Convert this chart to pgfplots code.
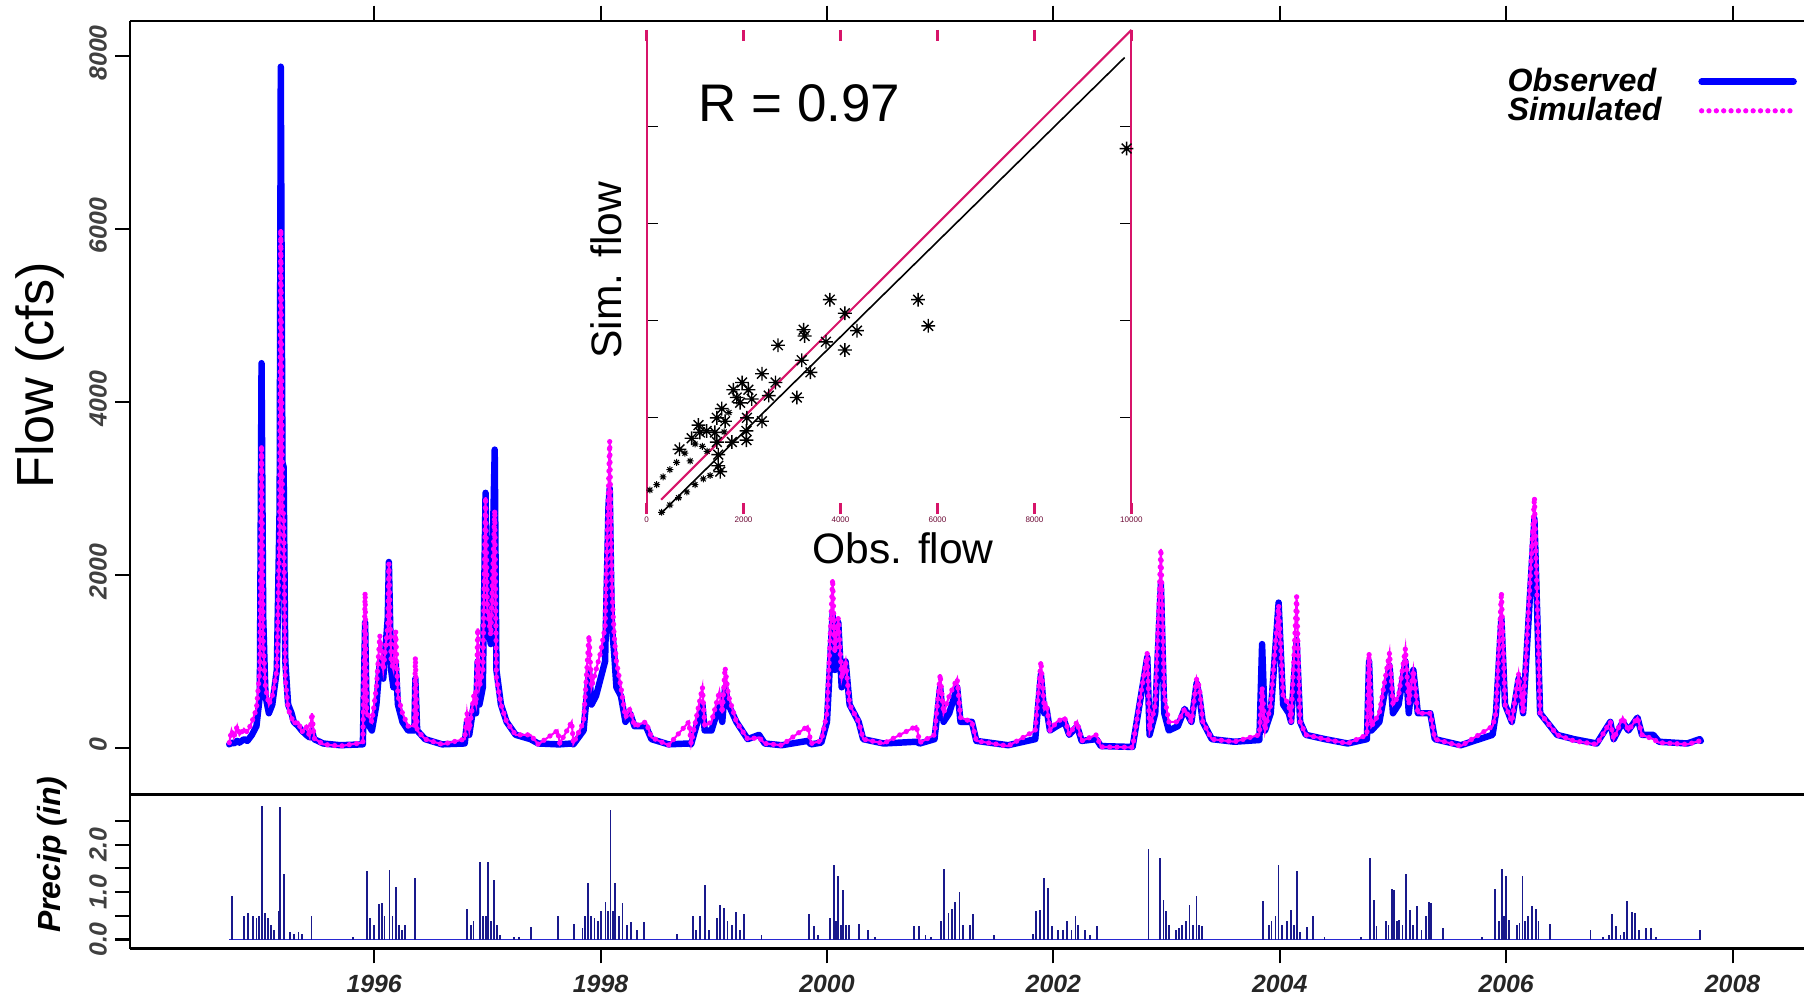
\documentclass[border=0pt]{standalone}
\usepackage{pgfplots}
\pgfplotsset{compat=1.18}
\usepackage{pgfplotstable}
\usepackage{fontspec}
\setmainfont{Liberation Sans}

\definecolor{obsblue}{RGB}{0,0,255}
\definecolor{simmag}{RGB}{255,0,255}
\definecolor{prnavy}{RGB}{25,25,140}
\definecolor{prbase}{RGB}{40,40,210}
\definecolor{crim}{RGB}{215,20,105}

\newcommand{\tlfont}{\fontsize{10.8}{12}\selectfont\bfseries\itshape}

\pgfdeclareplotmark{ast8}{%
 \pgfpathmoveto{\pgfqpoint{-\pgfplotmarksize}{0pt}}\pgfpathlineto{\pgfqpoint{\pgfplotmarksize}{0pt}}%
 \pgfpathmoveto{\pgfqpoint{0pt}{-\pgfplotmarksize}}\pgfpathlineto{\pgfqpoint{0pt}{\pgfplotmarksize}}%
 \pgfpathmoveto{\pgfqpoint{-.707\pgfplotmarksize}{-.707\pgfplotmarksize}}\pgfpathlineto{\pgfqpoint{.707\pgfplotmarksize}{.707\pgfplotmarksize}}%
 \pgfpathmoveto{\pgfqpoint{-.707\pgfplotmarksize}{.707\pgfplotmarksize}}\pgfpathlineto{\pgfqpoint{.707\pgfplotmarksize}{-.707\pgfplotmarksize}}%
 \pgfusepathqstroke}

\pgfplotstableread{
t obs sim
1994.72 40 60
1994.74 60 200
1994.76 50 120
1994.79 80 250
1994.81 60 150
1994.85 100 220
1994.88 80 180
1994.92 150 300
1994.96 250 450
1994.99 600 900
1995.005 4450 3500
1995.02 1500 1200
1995.04 600 700
1995.07 400 500
1995.10 500 600
1995.14 900 900
1995.165 2800 2500
1995.175 7880 6000
1995.19 3300 2750
1995.20 3250 2700
1995.215 1000 800
1995.24 500 450
1995.27 400 350
1995.29 300 280
1995.33 250 300
1995.36 200 180
1995.40 150 250
1995.43 120 130
1995.45 200 400
1995.47 100 110
1995.55 50 40
1995.70 30 20
1995.90 40 60
1995.92 1450 1800
1995.935 300 400
1995.98 200 300
1996.02 500 700
1996.05 1000 1300
1996.08 800 900
1996.12 1500 1400
1996.13 2150 2130
1996.15 900 1000
1996.17 700 900
1996.19 1000 1350
1996.21 500 600
1996.25 300 400
1996.30 200 250
1996.355 200 250
1996.364 800 1050
1996.38 200 200
1996.45 100 100
1996.60 40 40
1996.80 50 100
1996.82 300 400
1996.84 150 200
1996.88 500 600
1996.90 400 500
1996.915 1000 1380
1996.93 500 700
1996.96 700 900
1996.984 2950 2900
1997.00 1500 1600
1997.03 1200 1300
1997.065 3450 2750
1997.08 900 800
1997.12 500 500
1997.17 300 300
1997.25 150 150
1997.38 100 150
1997.45 50 40
1997.62 40 200
1997.64 40 50
1997.745 50 300
1997.76 40 50
1997.85 200 300
1997.898 900 1300
1997.92 500 700
1997.96 600 900
1998.00 800 1100
1998.04 1000 1400
1998.07 2800 3000
1998.081 3000 3550
1998.10 1400 1850
1998.12 1100 1300
1998.14 700 1000
1998.18 600 700
1998.22 300 350
1998.26 400 450
1998.30 250 250
1998.40 250 300
1998.45 100 120
1998.60 40 30
1998.78 50 300
1998.80 40 50
1998.90 500 700
1998.92 200 250
1998.98 200 300
1999.05 500 650
1999.075 300 400
1999.10 700 930
1999.13 500 600
1999.20 300 300
1999.30 100 100
1999.40 150 120
1999.45 50 50
1999.60 30 30
1999.83 80 250
1999.86 40 50
1999.95 60 80
2000.00 300 400
2000.05 1550 1950
2000.07 900 1100
2000.10 1450 1500
2000.13 700 800
2000.165 1000 1000
2000.20 500 500
2000.28 300 300
2000.32 100 100
2000.50 50 50
2000.79 70 250
2000.82 50 60
2000.95 100 150
2001.00 700 850
2001.03 300 400
2001.08 400 600
2001.15 700 800
2001.18 300 350
2001.28 300 300
2001.32 80 80
2001.60 30 20
2001.84 100 200
2001.89 850 1000
2001.92 400 450
2001.94 450 500
2001.97 200 200
2002.03 250 300
2002.10 300 350
2002.14 150 150
2002.21 250 300
2002.25 80 80
2002.38 100 150
2002.42 20 10
2002.70 10 5
2002.83 1050 1100
2002.85 150 200
2002.90 400 500
2002.95 1900 2300
2002.98 400 600
2003.02 200 300
2003.10 250 300
2003.16 450 450
2003.22 300 300
2003.266 750 800
2003.29 600 700
2003.32 300 300
2003.40 100 100
2003.60 70 70
2003.82 90 150
2003.844 1200 700
2003.87 200 200
2003.92 400 500
2003.99 1680 1650
2004.03 500 600
2004.08 400 500
2004.10 300 300
2004.149 1250 1750
2004.18 300 300
2004.23 150 150
2004.40 100 100
2004.60 50 50
2004.77 100 150
2004.789 1000 1100
2004.81 200 250
2004.88 300 400
2004.97 950 1100
2005.00 400 500
2005.05 500 600
2005.11 1000 1150
2005.14 400 500
2005.18 900 900
2005.22 400 400
2005.33 400 400
2005.37 100 100
2005.60 30 20
2005.88 150 250
2005.91 400 400
2005.958 1500 1800
2005.99 500 500
2006.05 300 300
2006.11 800 850
2006.15 400 400
2006.25 2650 2900
2006.30 400 400
2006.36 300 300
2006.45 150 150
2006.60 100 80
2006.80 50 40
2006.92 300 300
2006.95 100 100
2007.03 300 350
2007.08 200 200
2007.16 350 350
2007.20 150 150
2007.30 150 100
2007.35 70 60
2007.60 50 40
2007.71 100 80
2007.72 80 70
}\flowdata

\pgfplotstableread{
t p
1994.743 0.92
1994.850 0.50
1994.885 0.55
1994.926 0.50
1994.960 0.45
1994.986 0.50
1995.011 2.82
1995.037 0.55
1995.062 0.45
1995.087 0.30
1995.118 0.20
1995.160 0.60
1995.169 2.80
1995.204 1.39
1995.255 0.15
1995.291 0.12
1995.331 0.15
1995.366 0.12
1995.447 0.49
1995.812 0.06
1995.939 1.45
1995.964 0.45
1996.000 0.30
1996.041 0.75
1996.066 0.78
1996.091 0.50
1996.136 1.46
1996.162 0.50
1996.192 1.11
1996.218 0.30
1996.243 0.20
1996.273 0.30
1996.360 1.30
1996.821 0.64
1996.852 0.30
1996.877 0.40
1996.938 1.64
1996.963 0.50
1996.988 0.50
1997.004 1.64
1997.029 0.40
1997.055 1.25
1997.085 0.30
1997.115 0.10
1997.232 0.05
1997.282 0.05
1997.383 0.26
1997.627 0.49
1997.764 0.33
1997.840 0.25
1997.865 0.50
1997.891 1.20
1997.916 0.50
1997.946 0.45
1997.977 0.40
1998.007 0.60
1998.043 0.80
1998.068 0.60
1998.088 2.73
1998.109 0.60
1998.129 1.20
1998.160 0.50
1998.194 0.77
1998.230 0.30
1998.270 0.38
1998.321 0.20
1998.387 0.38
1998.676 0.12
1998.813 0.49
1998.843 0.20
1998.879 0.49
1998.920 1.16
1998.955 0.20
1999.031 0.45
1999.057 0.72
1999.092 0.66
1999.122 0.40
1999.158 0.30
1999.198 0.58
1999.234 0.20
1999.269 0.54
1999.421 0.10
1999.841 0.54
1999.882 0.28
1999.918 0.10
2000.029 0.45
2000.060 1.58
2000.080 0.40
2000.101 1.34
2000.121 0.30
2000.141 1.05
2000.167 0.30
2000.192 0.30
2000.283 0.33
2000.364 0.20
2000.425 0.06
2000.768 0.29
2000.810 0.29
2000.870 0.10
2000.921 0.05
2001.007 0.40
2001.032 1.48
2001.073 0.56
2001.104 0.65
2001.134 0.80
2001.171 1.01
2001.201 0.30
2001.262 0.30
2001.289 0.54
2001.472 0.10
2001.823 0.12
2001.849 0.60
2001.879 0.63
2001.915 1.30
2001.955 1.09
2001.991 0.28
2002.042 0.20
2002.082 0.20
2002.119 0.39
2002.160 0.20
2002.195 0.49
2002.221 0.30
2002.282 0.21
2002.322 0.10
2002.383 0.29
2002.841 1.92
2002.943 1.73
2002.973 0.84
2002.994 0.60
2003.019 0.30
2003.085 0.20
2003.111 0.25
2003.136 0.31
2003.172 0.40
2003.202 0.72
2003.233 0.30
2003.264 0.92
2003.289 0.30
2003.315 0.29
2003.851 0.82
2003.902 0.30
2003.927 0.40
2003.962 0.50
2003.989 1.58
2004.019 0.30
2004.065 0.40
2004.096 0.63
2004.126 0.30
2004.151 1.45
2004.182 0.15
2004.238 0.26
2004.294 0.50
2004.395 0.06
2004.716 0.06
2004.799 1.73
2004.829 0.84
2004.855 0.28
2004.936 0.39
2004.961 0.30
2004.988 1.06
2005.008 1.04
2005.034 0.40
2005.054 0.42
2005.085 0.30
2005.115 1.39
2005.150 0.63
2005.176 0.30
2005.211 0.71
2005.252 0.20
2005.293 0.50
2005.317 0.80
2005.338 0.77
2005.440 0.24
2005.787 0.06
2005.905 1.06
2005.940 0.40
2005.960 1.48
2005.981 0.50
2006.001 1.34
2006.027 0.42
2006.093 0.30
2006.118 0.35
2006.144 1.34
2006.169 0.40
2006.194 0.50
2006.230 0.71
2006.260 0.64
2006.286 0.40
2006.388 0.33
2006.745 0.21
2006.857 0.06
2006.908 0.10
2006.933 0.54
2006.970 0.28
2007.010 0.10
2007.041 0.15
2007.071 0.82
2007.112 0.59
2007.137 0.56
2007.173 0.20
2007.239 0.24
2007.280 0.24
2007.325 0.06
2007.713 0.20
}\precipdata

\pgfplotstableread{
x y
9900 7550
3780 4430
5600 4430
5810 3890
4090 4150
4340 3790
3240 3810
3260 3680
3700 3560
4090 3390
2710 3490
3200 3180
3380 2930
2380 2900
2660 2720
2520 2450
3100 2410
2380 1920
1970 2720
1790 2570
2100 2570
1860 2410
2170 2380
1930 2300
2070 1990
2060 1720
2060 1530
1760 1490
1550 2180
1450 1990
1620 1920
1070 1840
1240 1720
1410 1690
1450 1490
1480 1230
1480 1000
1520 880
680 1340
930 1570
1100 1690
}\scatbig

\pgfplotstableread{
x y
70 500
210 610
340 770
480 920
620 1070
790 1260
310 40
480 190
660 340
830 460
1000 610
1170 730
1310 800
900 1100
1150 1400
1250 1300
1000 1450
1600 1700
1700 2100
}\scatsmall

\begin{document}
\begin{tikzpicture}
\path (0,0) rectangle (784pt,431.5pt);
% ---------------- flow panel
\begin{axis}[
  at={(56.5pt,86.2pt)}, anchor=south west, scale only axis,
  width=727.5pt, height=336.3pt,
  xmin=1993.843, xmax=2008.63, ymin=-540, ymax=8412,
  axis x line*=box, axis y line*=left,
  axis line style={line width=1pt},
  tick align=outside, major tick length=6.5pt,
  tick style={black, line width=0.9pt},
  xtick={1996,1998,...,2008}, xticklabels={}, xtick pos=right, xticklabel pos=left,
  ytick={0,2000,4000,6000,8000}, yticklabels={0,2000,4000,6000,8000},
  ytick pos=left,
  yticklabel style={rotate=90, anchor=south, font=\tlfont, text=black!75, xshift=1.5pt},
  ylabel={Flow (cfs)},
  ylabel style={at={(axis description cs:-0.0535,0.542)}, anchor=center, font=\fontsize{22.7}{26}\selectfont},
  legend plot pos=right,
  legend cell align=left,
  legend image code/.code={\draw[#1] (0pt,0pt) -- (40pt,0pt);},
  legend style={at={(axis description cs:0.82,0.945)}, anchor=north west,
    draw=none, fill=none, inner sep=0pt, row sep=-3pt, column sep=14pt,
    font=\fontsize{14}{15}\selectfont\bfseries\itshape},
]
\addplot[obsblue, line width=2.8pt, line join=round, line cap=round] table[x=t, y=obs] {\flowdata};
\addlegendentry{Observed}
\addplot[simmag, line width=0.9pt, forget plot] table[x=t, y=sim] {\flowdata};
\addplot[simmag, line width=2.3pt, line cap=round, dash pattern=on 0pt off 3.2pt] table[x=t, y=sim] {\flowdata};
\addlegendentry{Simulated}
\end{axis}

% ---------------- precip panel
\begin{axis}[
  at={(56.5pt,19.25pt)}, anchor=south west, scale only axis,
  width=727.5pt, height=66.95pt,
  xmin=1993.843, xmax=2008.63, ymin=-0.19, ymax=3.06,
  axis x line*=box, axis y line*=left,
  axis line style={line width=1pt},
  tick align=outside, major tick length=6.5pt,
  tick style={black, line width=0.9pt},
  xtick={1996,1998,...,2008},
  xticklabels={1996,1998,2000,2002,2004,2006,2008},
  xtick pos=left,
  xticklabel style={font=\tlfont, text=black!85, inner sep=2pt, yshift=-3pt},
  ytick={0,0.5,1,1.5,2,2.5}, yticklabels={0.0,,1.0,,2.0,},
  ytick pos=left,
  yticklabel style={rotate=90, anchor=south, font=\tlfont, text=black!75},
  ylabel={Precip (in)},
  ylabel style={at={(axis description cs:-0.0466,0.609)}, anchor=center, font=\fontsize{13.9}{15}\selectfont\bfseries\itshape},
]
\addplot[prbase, line width=0.8pt] coordinates {(1994.72,0) (2007.72,0)};
\addplot[prnavy, ycomb, line width=0.8pt, no marks] table[x=t, y=p] {\precipdata};
\end{axis}

% ---------------- inset scatter
\begin{axis}[
  at={(281pt,208pt)}, anchor=south west, scale only axis,
  width=210.75pt, height=210.5pt,
  xmin=0, xmax=10000, ymin=0, ymax=10000,
  clip=false, scaled ticks=false,
  separate axis lines,
  x axis line style={draw=none},
  y axis line style={crim, line width=0.9pt},
  tick align=inside, major tick length=5pt,
  xtick={0,2000,4000,6000,8000,10000},
  xticklabels={0,2000,4000,6000,8000,10000},
  xtick style={crim, line width=1pt},
  xticklabel style={font=\fontsize{3.5}{4}\selectfont, text=crim!50!black, inner sep=1pt},
  ytick={2000,4000,6000,8000}, yticklabels={},
  ytick style={black, line width=0.6pt},
  xlabel={Obs. flow},
  xlabel style={at={(axis description cs:0.529,-0.0713)}, anchor=center, font=\fontsize{18.5}{20}\selectfont},
  ylabel={Sim. flow},
  ylabel style={at={(axis description cs:-0.083,0.504)}, anchor=center, font=\fontsize{18.5}{20}\selectfont},
]
\addplot[crim, line width=0.9pt] coordinates {(300,300) (10000,10000)};
\addplot[black, line width=0.7pt] coordinates {(280,0) (9860,9430)};
\addplot[only marks, mark=ast8, mark size=3pt, mark options={black, line width=0.6pt}] table[x=x, y=y] {\scatbig};
\addplot[only marks, mark=ast8, mark size=1.5pt, mark options={black, line width=0.45pt}] table[x=x, y=y] {\scatsmall};
\node[font=\fontsize{23}{26}\selectfont, anchor=center] at (axis description cs:0.3155,0.848) {R = 0.97};
\end{axis}
\end{tikzpicture}
\end{document}
